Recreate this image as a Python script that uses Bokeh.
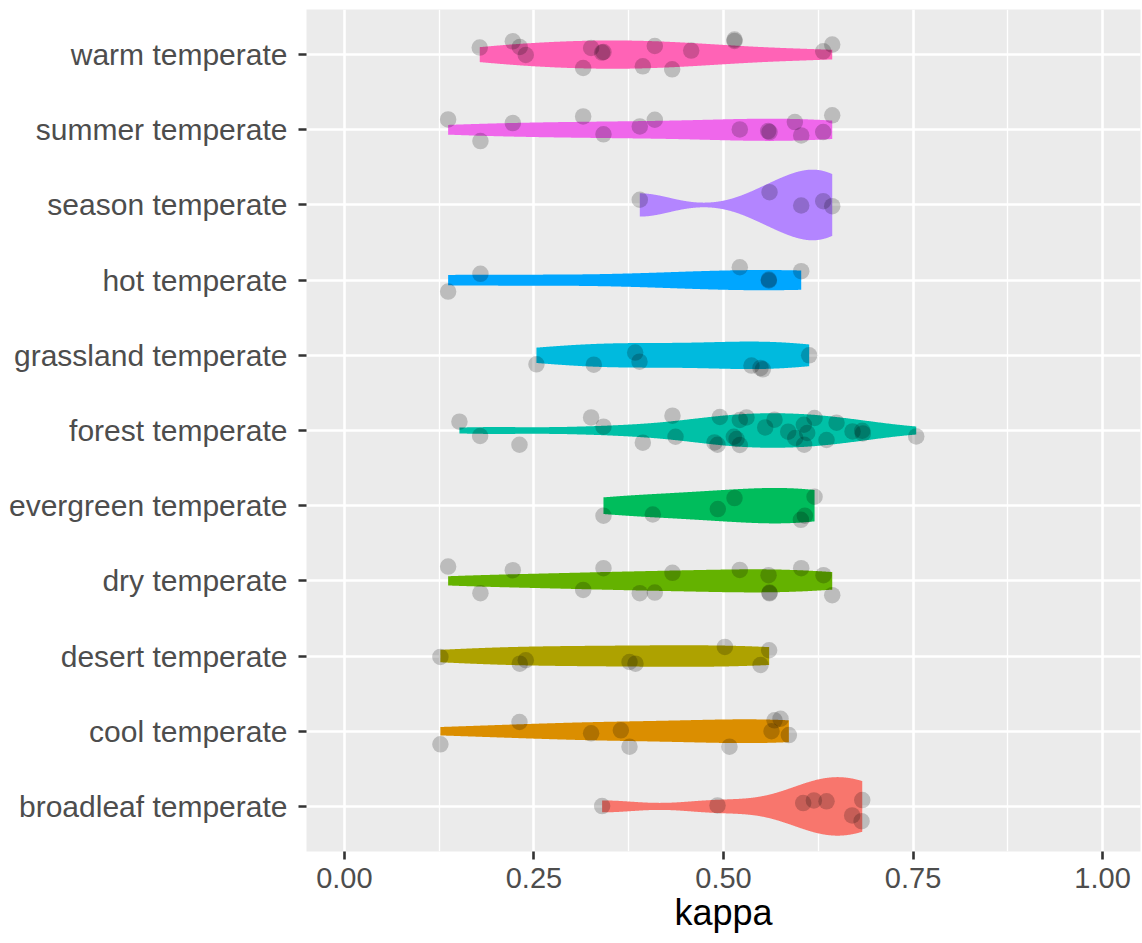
import numpy as np
from bokeh.plotting import figure
from bokeh.models import Range1d, FixedTicker
from bokeh.embed import file_html
from bokeh.resources import INLINE

categories = ["broadleaf temperate", "cool temperate", "desert temperate", "dry temperate",
              "evergreen temperate", "forest temperate", "grassland temperate", "hot temperate",
              "season temperate", "summer temperate", "warm temperate"]
colors = ["#F8766D", "#DB8E00", "#AEA200", "#64B200", "#00BD5C", "#00C1A7",
          "#00BADE", "#00A6FF", "#B385FF", "#EF67EB", "#FF63B6"]

x_ticks = [0.0, 0.25, 0.5, 0.75, 1.0]
x_tick_labels = ["0.00", "0.25", "0.50", "0.75", "1.00"]

# kappa values per category and their vertical jitter
broadleaf_kappa = [0.3399, 0.4921, 0.6051, 0.6192, 0.6359, 0.6830, 0.6697, 0.6821]
broadleaf_jit = [0.004, 0.013, 0.044, 0.080, 0.067, 0.084, -0.120, -0.196]

cool_kappa = [0.1266, 0.2309, 0.3254, 0.3646, 0.3760, 0.5079, 0.5633, 0.5673, 0.5752, 0.5862]
cool_jit = [-0.174, 0.123, -0.028, 0.012, -0.206, -0.206, -0.001, 0.145, 0.166, -0.051]

desert_kappa = [0.1266, 0.2313, 0.2392, 0.3760, 0.3839, 0.5018, 0.5602, 0.5488]
desert_jit = [-0.012, -0.101, -0.056, -0.079, -0.101, 0.121, 0.077, -0.119]

dry_kappa = [0.1368, 0.1794, 0.2221, 0.3149, 0.3417, 0.3896, 0.4094, 0.4327, 0.5215,
             0.5594, 0.5607, 0.5607, 0.6025, 0.6319, 0.6434]
dry_jit = [0.190, -0.164, 0.142, -0.120, 0.169, -0.164, -0.156, 0.107, 0.146,
           0.076, -0.156, -0.166, 0.169, 0.076, -0.190]

evergreen_kappa = [0.3417, 0.4067, 0.4925, 0.5145, 0.6201, 0.6073, 0.6021]
evergreen_jit = [-0.134, -0.117, -0.045, 0.101, 0.119, -0.134, -0.188]

forest_kappa = [0.1517, 0.1790, 0.2309, 0.3254, 0.3417, 0.3936, 0.4327, 0.4367, 0.4952, 0.4881,
                0.4921, 0.5215, 0.5303, 0.5136, 0.5172, 0.5215, 0.5550, 0.5673, 0.5853, 0.5946,
                0.6060, 0.6104, 0.6064, 0.6201, 0.6359, 0.6491, 0.6702, 0.6830, 0.6838, 0.7542]
forest_jit = [0.117, -0.073, -0.189, 0.174, 0.051, -0.162, 0.197, -0.083, 0.180, -0.158,
              -0.189, 0.140, 0.174, -0.083, -0.113, -0.193, 0.041, 0.144, -0.016, -0.100,
              0.077, -0.033, -0.189, 0.166, -0.126, 0.104, -0.012, -0.003, -0.039, -0.079]

grassland_kappa = [0.2533, 0.3289, 0.3835, 0.3892, 0.5369, 0.5488, 0.5519, 0.6130]
grassland_jit = [-0.120, -0.124, 0.036, -0.084, -0.137, -0.168, -0.186, 0.000]

hot_kappa = [0.1368, 0.1794, 0.5215, 0.5598, 0.5598, 0.6025]
hot_jit = [-0.152, 0.084, 0.172, -0.005, 0.008, 0.119]

season_kappa = [0.3896, 0.5607, 0.6025, 0.6315, 0.6434]
season_jit = [0.069, 0.170, -0.007, 0.051, -0.016]

summer_kappa = [0.1368, 0.1794, 0.2221, 0.3149, 0.3417, 0.3896, 0.4094, 0.5215, 0.5589,
                0.5607, 0.5941, 0.6025, 0.6315, 0.6434]
summer_jit = [0.138, -0.150, 0.089, 0.178, -0.061, 0.045, 0.134, 0.005, -0.017,
              -0.031, 0.103, -0.075, -0.031, 0.192]

warm_kappa = [0.1785, 0.2221, 0.2313, 0.2392, 0.3254, 0.3399, 0.3417, 0.3149, 0.4094, 0.3936,
              0.4323, 0.4574, 0.5145, 0.5145, 0.6315, 0.6434]
warm_jit = [0.093, 0.177, 0.101, -0.005, 0.088, 0.027, 0.035, -0.178, 0.115, -0.156,
            -0.196, 0.053, 0.200, 0.181, 0.044, 0.133]

kappas = [broadleaf_kappa, cool_kappa, desert_kappa, dry_kappa, evergreen_kappa, forest_kappa,
          grassland_kappa, hot_kappa, season_kappa, summer_kappa, warm_kappa]
jits = [broadleaf_jit, cool_jit, desert_jit, dry_jit, evergreen_jit, forest_jit,
        grassland_jit, hot_jit, season_jit, summer_jit, warm_jit]

BW_ADJUST = 1.15


def kde(vals):
    v = np.asarray(vals, dtype=float)
    n = len(v)
    sd = v.std(ddof=1)
    q75, q25 = np.percentile(v, [75, 25])
    lo = min(sd, (q75 - q25) / 1.34)
    if lo <= 0:
        lo = sd
    bw = BW_ADJUST * 0.9 * lo * n ** -0.2
    grid = np.linspace(v.min(), v.max(), 512)
    d = np.exp(-0.5 * ((grid[:, None] - v[None, :]) / bw) ** 2).sum(axis=1) / (n * bw * np.sqrt(2 * np.pi))
    return grid, d


dens = [kde(k) for k in kappas]
gmax = max(d.max() for _, d in dens)

p = figure(width=1142, height=943, output_backend="svg", toolbar_location=None,
           x_range=Range1d(-0.05, 1.05), y_range=Range1d(0.4, len(categories) + 0.6),
           min_border_left=306, min_border_right=2, min_border_top=9, min_border_bottom=92)

p.background_fill_color = "#EBEBEB"
p.border_fill_color = "white"
p.outline_line_color = None

xs, ys = [], []
for i, (grid, d) in enumerate(dens):
    c = i + 1
    hw = 0.47 * d / gmax
    xs.append(np.concatenate([grid, grid[::-1]]))
    ys.append(np.concatenate([c + hw, (c - hw)[::-1]]))
p.patches(xs=xs, ys=ys, fill_color=colors, line_color=None, fill_alpha=1.0)

px, py = [], []
for i, (k, j) in enumerate(zip(kappas, jits)):
    for kv, jv in zip(k, j):
        px.append(kv)
        py.append(i + 1 + jv)
p.scatter(x=px, y=py, size=16.5, fill_color="black", fill_alpha=0.2, line_color=None)

# axes
p.xaxis.ticker = FixedTicker(ticks=x_ticks, minor_ticks=[0.125, 0.375, 0.625, 0.875])
p.xaxis.major_label_overrides = {t: l for t, l in zip(x_ticks, x_tick_labels)}
yticks = list(range(1, len(categories) + 1))
p.yaxis.ticker = FixedTicker(ticks=yticks)
p.yaxis.major_label_overrides = {t: c for t, c in zip(yticks, categories)}

for ax in (p.xaxis[0], p.yaxis[0]):
    ax.axis_line_color = None
    ax.major_tick_line_color = "#333333"
    ax.major_tick_line_width = 2.6
    ax.major_tick_in = 0
    ax.major_tick_out = 8
    ax.minor_tick_line_color = None
    ax.major_label_text_font = "Liberation Sans"
    ax.major_label_text_color = "#4D4D4D"

p.xaxis.major_label_text_font_size = "29px"
p.yaxis.major_label_text_font_size = "30px"
p.xaxis.major_label_standoff = 8
p.yaxis.major_label_standoff = 11
p.xaxis.axis_label = "kappa"
p.xaxis.axis_label_text_font = "Liberation Sans"
p.xaxis.axis_label_text_font_size = "36px"
p.xaxis.axis_label_text_font_style = "normal"
p.xaxis.axis_label_text_color = "black"
p.xaxis.axis_label_standoff = 1

p.xgrid.grid_line_color = "white"
p.xgrid.grid_line_width = 2.6
p.xgrid.minor_grid_line_color = "white"
p.xgrid.minor_grid_line_width = 1.3
p.ygrid.grid_line_color = "white"
p.ygrid.grid_line_width = 2.6

open("out.html", "w").write(file_html(p, INLINE))
